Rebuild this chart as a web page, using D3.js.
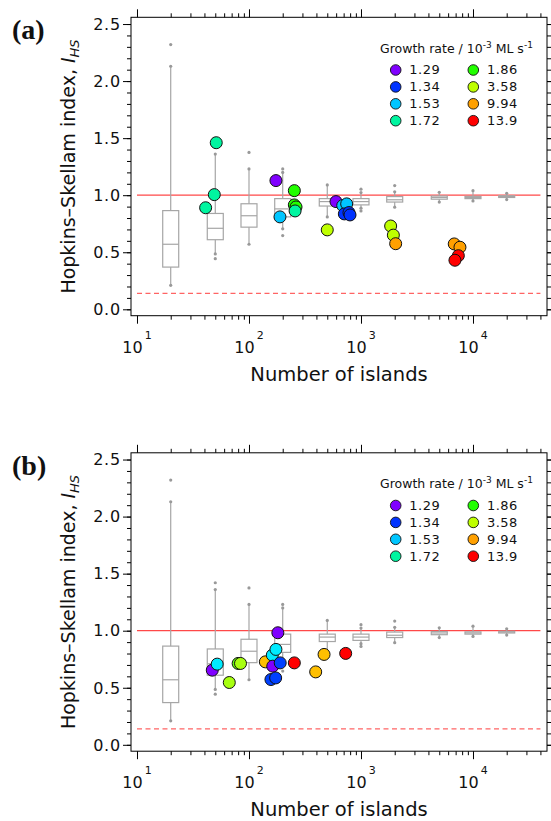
<!DOCTYPE html>
<html>
<head>
<meta charset="utf-8">
<script src="https://cdn.jsdelivr.net/npm/d3@7"></script>
<style>
	body{margin:0;background:#fff;}
	svg{display:block;}
	text{font-family:"DejaVu Sans", sans-serif; fill:#111;}
	.panelLabel{font-family:"Liberation Serif", "Times New Roman", serif; font-weight:bold;}
</style>
</head>
<body>
<svg id="chart" width="551" height="821"></svg>
<script>
// ---- data ----
var growthRates = ["1.29", "1.34", "1.53", "1.72", "1.86", "3.58", "9.94", "13.9"];

// simulated random-island reference (same in both panels)
var boxN      = [20, 50, 100, 200, 500, 1000, 2000, 5000, 10000, 20000];
var boxQ1     = [0.37, 0.61, 0.72, 0.81, 0.905, 0.915, 0.94, 0.965, 0.97, 0.98];
var boxMedian = [0.57, 0.71, 0.82, 0.88, 0.944, 0.944, 0.96, 0.98, 0.98, 0.988];
var boxQ3     = [0.865, 0.84, 0.925, 0.97, 0.97, 0.97, 0.988, 0.993, 0.99, 0.995];
var boxLow    = [0.21, 0.485, 0.57, 0.705, 0.81, 0.886, 0.895, 0.94, 0.95, 0.962];
var boxHigh   = [2.13, 1.36, 1.23, 1.20, 1.09, 1.023, 1.03, 1.026, 1.04, 1.017];
var boxOutliers = [[2.32], [0.444, 1.42], [1.375], [0.646, 1.23], [], [0.862, 1.053], [1.084], [], [], []];

// reference lines
var refSolid = 1.0;
var refDashed = 0.14;
var refSpan = [10, 40000];

// measured points: [growth rate, number of islands, I_HS]
var pointsA = [
	["1.72", 41, 0.89],
	["1.72", 49, 1.005],
	["1.72", 51, 1.46],
	["1.29", 174, 1.128],
	["1.53", 189, 0.81],
	["1.86", 254, 1.04],
	["1.86", 254, 0.915],
	["1.86", 263, 0.897],
	["1.72", 258, 0.862],
	["3.58", 500, 0.696],
	["1.29", 598, 0.944],
	["1.53", 687, 0.909],
	["1.53", 745, 0.924],
	["1.34", 710, 0.836],
	["1.34", 781, 0.848],
	["1.34", 798, 0.827],
	["3.58", 1840, 0.73],
	["3.58", 1945, 0.65],
	["9.94", 2040, 0.575],
	["9.94", 6800, 0.573],
	["9.94", 7650, 0.544],
	["13.9", 7400, 0.47],
	["13.9", 6900, 0.43]
];

var pointsB = [
	["1.29", 47, 0.654],
	["1.53", 52, 0.707],
	["3.58", 66.7, 0.546],
	["1.86", 80, 0.713],
	["3.58", 84, 0.713],
	["9.94", 140, 0.727],
	["1.53", 161.5, 0.786],
	["1.53", 174, 0.836],
	["1.29", 163, 0.689],
	["1.29", 181, 0.982],
	["1.34", 190, 0.718],
	["1.34", 157, 0.572],
	["1.34", 173, 0.586],
	["13.9", 254, 0.718],
	["9.94", 394, 0.639],
	["9.94", 468, 0.792],
	["13.9", 730, 0.801]
];

var xMajorTicks = [10, 100, 1000, 10000];
var yMajorTicks = [0, 0.5, 1.0, 1.5, 2.0, 2.5];

// ---- layout ----
var svg = d3.select('#chart');
var margin = {left: 131, top: 17.3},
	plotW = 416,
	plotH = 298.4,
	panelOffset = 435.5;

var legendColors = ["#8000ff", "#0033ff", "#00c6ff", "#00f5a0", "#22ff00", "#bfff00", "#ffa000", "#ff0000"];
var pointColorsB = ["#8000ff", "#0040ff", "#00eaff", "#00ffb0", "#66ff10", "#a8ff10", "#ffbf00", "#ff0000"];

var xScale = d3.scaleLog().domain([8.84, 45800]).range([0, plotW]);
var yScale = d3.scaleLinear().domain([-0.056, 2.559]).range([plotH, 0]);

//minor ticks
var xMinor = [];
xMajorTicks.forEach(function(p){
	for(var m = 2; m <= 9; m++){
		if(m*p <= xScale.domain()[1]){ xMinor.push(m*p); }
	}
});
var yMinor = d3.range(0, 26).map(function(i){ return i/10; });

function addTicks(g, axisFn, scale, ticks, size, transform){
	g.append('g').attr('transform', transform)
		.call(axisFn(scale).tickValues(ticks).tickSize(size).tickSizeOuter(0).tickFormat(''))
		.call(function(s){ s.select('.domain').remove(); s.selectAll('line').attr('stroke', '#000'); });
}

function drawPanel(offset, label, points, pointColors){
	var panel = svg.append('g').attr('transform', 'translate(0,' + offset + ')');
	var g = panel.append('g').attr('transform', 'translate(' + margin.left + ',' + margin.top + ')');

	var color = d3.scaleOrdinal().domain(growthRates).range(pointColors);

	//reference lines
	g.append('line')
		.attr('x1', xScale(refSpan[0])).attr('x2', xScale(refSpan[1]))
		.attr('y1', yScale(refSolid)).attr('y2', yScale(refSolid))
		.attr('stroke', '#ff4848').attr('stroke-width', 1.2);
	g.append('line')
		.attr('x1', xScale(refSpan[0])).attr('x2', xScale(refSpan[1]))
		.attr('y1', yScale(refDashed)).attr('y2', yScale(refDashed))
		.attr('stroke', '#ff6464').attr('stroke-width', 1.2).attr('stroke-dasharray', '5,3.5');

	//box plots
	var boxW = 16, boxColor = '#a6a6a6';
	var boxes = g.append('g').selectAll('g').data(boxN).enter().append('g')
		.attr('transform', function(d){ return 'translate(' + xScale(d) + ',0)'; });
	boxes.append('line')
		.attr('y1', function(d, i){ return yScale(boxLow[i]); })
		.attr('y2', function(d, i){ return yScale(boxHigh[i]); })
		.attr('stroke', boxColor).attr('stroke-width', 1.2);
	boxes.append('rect')
		.attr('x', -boxW/2).attr('width', boxW)
		.attr('y', function(d, i){ return yScale(boxQ3[i]); })
		.attr('height', function(d, i){ return yScale(boxQ1[i]) - yScale(boxQ3[i]); })
		.attr('fill', '#fff').attr('stroke', boxColor).attr('stroke-width', 1.2);
	boxes.append('line')
		.attr('x1', -boxW/2).attr('x2', boxW/2)
		.attr('y1', function(d, i){ return yScale(boxMedian[i]); })
		.attr('y2', function(d, i){ return yScale(boxMedian[i]); })
		.attr('stroke', boxColor).attr('stroke-width', 1.2);
	boxes.selectAll('circle')
		.data(function(d, i){ return [boxLow[i], boxHigh[i]].concat(boxOutliers[i]); })
		.enter().append('circle')
		.attr('cy', function(v){ return yScale(v); })
		.attr('r', 1.6).attr('fill', '#999');

	//points
	g.append('g').selectAll('circle').data(points).enter().append('circle')
		.attr('cx', function(d){ return xScale(d[1]); })
		.attr('cy', function(d){ return yScale(d[2]); })
		.attr('r', 6)
		.attr('fill', function(d){ return color(d[0]); })
		.attr('stroke', '#111').attr('stroke-width', 1);

	//frame + ticks
	g.append('rect').attr('width', plotW).attr('height', plotH)
		.attr('fill', 'none').attr('stroke', '#000').attr('stroke-width', 1);
	addTicks(g, d3.axisBottom, xScale, xMinor, 4, 'translate(0,' + plotH + ')');
	addTicks(g, d3.axisBottom, xScale, xMajorTicks, 8, 'translate(0,' + plotH + ')');
	addTicks(g, d3.axisTop, xScale, xMinor, 4, 'translate(0,0)');
	addTicks(g, d3.axisTop, xScale, xMajorTicks, 8, 'translate(0,0)');
	addTicks(g, d3.axisLeft, yScale, yMinor, 4, 'translate(0,0)');
	addTicks(g, d3.axisLeft, yScale, yMajorTicks, 8, 'translate(0,0)');
	addTicks(g, d3.axisRight, yScale, yMinor, 4, 'translate(' + plotW + ',0)');
	addTicks(g, d3.axisRight, yScale, yMajorTicks, 8, 'translate(' + plotW + ',0)');

	//tick labels
	g.append('g').selectAll('text').data(yMajorTicks).enter().append('text')
		.attr('x', -10).attr('y', function(d){ return yScale(d); })
		.attr('dy', '0.36em').attr('text-anchor', 'end')
		.style('font-size', '16px').style('letter-spacing', '0.8px')
		.text(function(d){ return d3.format('.1f')(d); });

	var xl = g.append('g').selectAll('text').data(xMajorTicks).enter().append('text')
		.attr('x', function(d){ return xScale(d); }).attr('y', plotH + 37)
		.attr('text-anchor', 'middle').style('font-size', '16px');
	xl.append('tspan').text('10');
	xl.append('tspan').attr('dx', 2).attr('dy', -14).style('font-size', '11px')
		.text(function(d){ return Math.round(Math.log10(d)); });

	//axis titles
	g.append('text').attr('x', plotW/2).attr('y', plotH + 65)
		.attr('text-anchor', 'middle').style('font-size', '19.5px')
		.text('Number of islands');
	var yt = g.append('text')
		.attr('transform', 'translate(' + (75 - margin.left) + ',' + plotH/2 + ') rotate(-90)')
		.attr('text-anchor', 'middle').style('font-size', '19px');
	yt.append('tspan').text('Hopkins\u2013Skellam index, ');
	yt.append('tspan').style('font-style', 'italic').text('I');
	yt.append('tspan').style('font-style', 'italic').style('font-size', '13px').attr('dy', 4).text('HS');

	//panel label
	panel.append('text').attr('class', 'panelLabel')
		.attr('x', 12).attr('y', 39).style('font-size', '28px').text(label);

	//legend
	var legend = g.append('g').attr('transform', 'translate(249,0)');
	var lt = legend.append('text').attr('x', 0).attr('y', 35.7).style('font-size', '12.5px');
	lt.append('tspan').text('Growth rate / 10');
	lt.append('tspan').attr('dy', -5).style('font-size', '9px').text('-3');
	lt.append('tspan').attr('dy', 5).text(' ML s');
	lt.append('tspan').attr('dy', -5).style('font-size', '9px').text('-1');

	var items = legend.selectAll('.item').data(growthRates).enter().append('g')
		.attr('transform', function(d, i){
			return 'translate(' + (15.7 + Math.floor(i/4)*77.6) + ',' + (52.7 + (i%4)*16.9) + ')';
		});
	items.append('circle').attr('r', 5.3)
		.attr('fill', function(d, i){ return legendColors[i]; })
		.attr('stroke', '#111').attr('stroke-width', 0.9);
	items.append('text').attr('x', 13.6).attr('y', 4.4)
		.style('font-size', '13px').style('letter-spacing', '0.5px')
		.text(function(d){ return d; });
}

drawPanel(0, '(a)', pointsA, legendColors);
drawPanel(panelOffset, '(b)', pointsB, pointColorsB);
</script>
</body>
</html>
